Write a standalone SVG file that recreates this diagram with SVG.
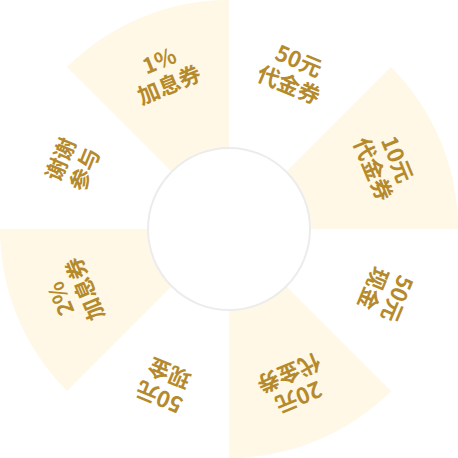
<svg xmlns="http://www.w3.org/2000/svg" width="458" height="458" viewBox="0 0 458 458">
<style>
.cream{fill:#fff8e6}
.lbl{font-family:"Noto Sans CJK SC","Noto Sans",sans-serif;font-weight:bold;font-size:22px;fill:#b58a2c;text-anchor:middle;dominant-baseline:central}
</style>
<defs>
<path id="sec" d="M229,229 L229,0 A229,229 0 0 0 67.07,67.07 Z"/>
</defs>
<rect width="458" height="458" fill="#ffffff"/>
<g id="sectors">
<use href="#sec" class="cream"/>
<use href="#sec" class="cream" transform="rotate(90 229 229)"/>
<use href="#sec" class="cream" transform="rotate(180 229 229)"/>
<use href="#sec" class="cream" transform="rotate(270 229 229)"/>
</g>
<g id="p1" transform="rotate(-22.5 229 229)"><text class="lbl" x="229" y="45">1%</text><text class="lbl" x="229" y="71">加息券</text></g>
<g id="p2" transform="rotate(22.5 229 229)"><text class="lbl" x="229" y="45">50元</text><text class="lbl" x="229" y="71">代金券</text></g>
<g id="p3" transform="rotate(67.5 229 229)"><text class="lbl" x="229" y="45">10元</text><text class="lbl" x="229" y="71">代金券</text></g>
<g id="p4" transform="rotate(112.5 229 229)"><text class="lbl" x="229" y="45">50元</text><text class="lbl" x="229" y="71">现金</text></g>
<g id="p5" transform="rotate(157.5 229 229)"><text class="lbl" x="229" y="45">20元</text><text class="lbl" x="229" y="71">代金券</text></g>
<g id="p6" transform="rotate(202.5 229 229)"><text class="lbl" x="229" y="45">50元</text><text class="lbl" x="229" y="71">现金</text></g>
<g id="p7" transform="rotate(247.5 229 229)"><text class="lbl" x="229" y="45">2%</text><text class="lbl" x="229" y="71">加息券</text></g>
<g id="p8" transform="rotate(292.5 229 229)"><text class="lbl" x="229" y="45">谢谢</text><text class="lbl" x="229" y="71">参与</text></g>
<g id="hub"><circle cx="229" cy="229" r="81" fill="#ffffff" stroke="#ececec" stroke-width="2"/></g>
</svg>
